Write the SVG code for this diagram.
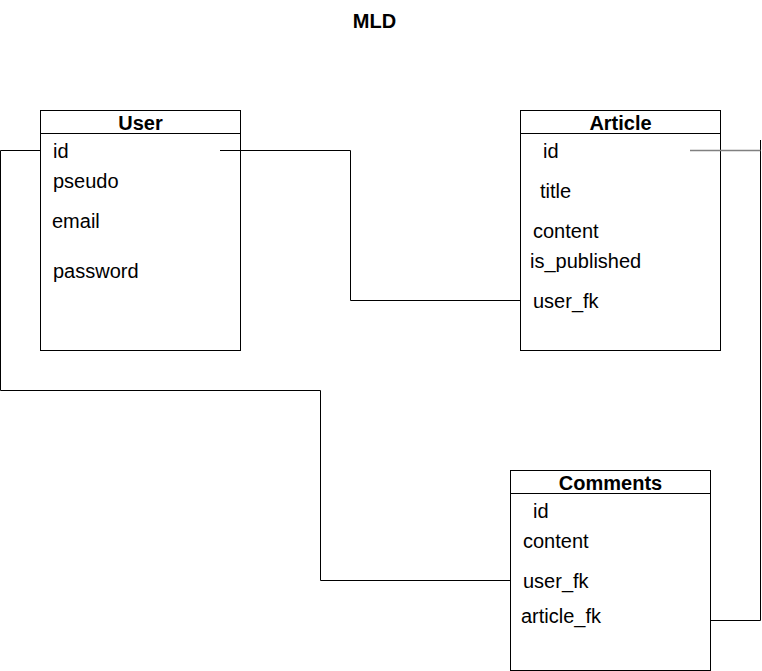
<svg xmlns="http://www.w3.org/2000/svg" width="762" height="671" viewBox="0 0 762 671">
<style>
.box{fill:#fff;stroke:#000;stroke-width:1}
.sep{stroke:#000;stroke-width:1}
.t{font-family:"Liberation Sans",Arial,sans-serif;font-size:20px;fill:#000}
.h{font-family:"Liberation Sans",Arial,sans-serif;font-size:20px;font-weight:bold;fill:#000;text-anchor:middle}
.c{fill:none;stroke:#000;stroke-width:1}
</style>
<rect width="762" height="671" fill="#fff"/>
<text class="h" x="374.5" y="28">MLD</text>
<g id="user">
<rect class="box" x="40.5" y="110.5" width="200" height="240"/>
<line class="sep" x1="40.5" y1="133.5" x2="240.5" y2="133.5"/>
<text class="h" x="140.5" y="130">User</text>
<text class="t" x="53" y="158">id</text>
<text class="t" x="53" y="188">pseudo</text>
<text class="t" x="52" y="228">email</text>
<text class="t" x="53" y="278">password</text>
</g>
<g id="article">
<rect class="box" x="520.5" y="110.5" width="200" height="240"/>
<line class="sep" x1="520.5" y1="133.5" x2="720.5" y2="133.5"/>
<text class="h" x="620.5" y="130">Article</text>
<text class="t" x="543" y="158">id</text>
<text class="t" x="540" y="198">title</text>
<text class="t" x="533" y="238">content</text>
<text class="t" x="530" y="268">is_published</text>
<text class="t" x="533" y="308">user_fk</text>
</g>
<g id="comments">
<rect class="box" x="510.5" y="470.5" width="200" height="200"/>
<line class="sep" x1="510.5" y1="493.5" x2="710.5" y2="493.5"/>
<text class="h" x="610.5" y="490">Comments</text>
<text class="t" x="533" y="518">id</text>
<text class="t" x="523" y="548">content</text>
<text class="t" x="523" y="588">user_fk</text>
<text class="t" x="521" y="623">article_fk</text>
</g>
<g id="connectors">
<polyline class="c" points="220,150.5 350.5,150.5 350.5,300.5 520,300.5"/>
<polyline class="c" points="40,150.5 0.5,150.5 0.5,390.5 320.5,390.5 320.5,580.5 510,580.5"/>
<polyline class="c" points="760.5,140 760.5,620.5 710,620.5"/>
<line x1="690" y1="150.5" x2="760.5" y2="150.5" stroke="#808080" stroke-width="1.5"/>
</g>
</svg>
